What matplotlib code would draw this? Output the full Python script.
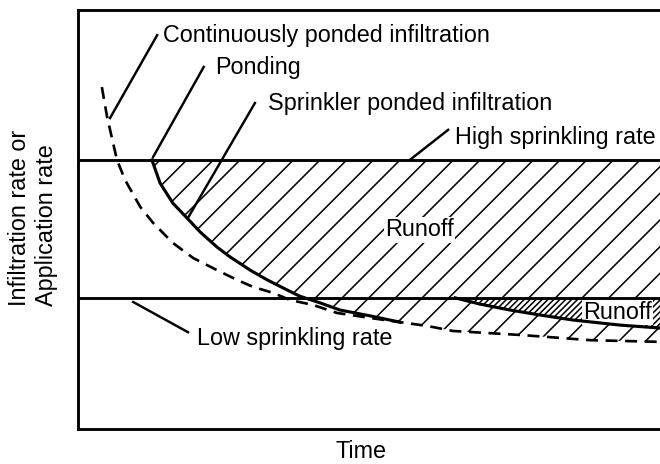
"""Sprinkler vs. continuously ponded infiltration sketch (runoff regions)."""

import matplotlib

matplotlib.use("Agg")
import matplotlib.pyplot as plt
import numpy as np

# figure drawn at 160 dpi so the hatch spacing matches the sketch
DPI = 160
plt.rcParams["font.family"] = ["Liberation Sans", "DejaVu Sans"]
plt.rcParams["font.size"] = 10.5
plt.rcParams["hatch.linewidth"] = 0.7
plt.rcParams["lines.scale_dashes"] = False

# --- data (time, rate in arbitrary units) ---
high_rate = 6.42
low_rate = 3.13

ponded_t = [0.41, 0.50, 0.67, 0.81, 1.07, 1.29, 1.63, 1.98, 2.39, 2.73, 3.01,
            3.35, 3.64, 4.04, 4.45, 5.02, 5.53, 6.00, 6.44, 7.65, 8.80, 10.0]
ponded_f = [8.16, 7.45, 6.42, 5.94, 5.30, 4.92, 4.44, 4.08, 3.79, 3.56, 3.39,
            3.25, 3.08, 2.96, 2.77, 2.65, 2.55, 2.46, 2.34, 2.24, 2.12, 2.08]

sprinkler_hi_t = [1.27, 1.41, 1.63, 1.87, 2.10, 2.39, 2.61, 2.96, 3.25, 3.59,
                  3.81, 4.16, 4.50, 5.02, 5.53]
sprinkler_hi_f = [6.42, 5.87, 5.39, 5.04, 4.70, 4.34, 4.11, 3.79, 3.56, 3.32,
                  3.17, 3.01, 2.84, 2.70, 2.55]

sprinkler_lo_t = [6.48, 6.91, 7.42, 7.94, 8.51, 9.31, 10.0]
sprinkler_lo_f = [3.13, 2.98, 2.84, 2.72, 2.60, 2.48, 2.41]

fig = plt.figure(figsize=(660 / DPI, 464 / DPI), dpi=DPI)
ax = fig.add_axes([78 / 660, 35 / 464, 582 / 660, 419 / 464])
ax.set_xlim(0, 10)
ax.set_ylim(0, 10)
ax.set_xticks([])
ax.set_yticks([])
ax.spines["right"].set_visible(False)
for s in ("left", "top", "bottom"):
    ax.spines[s].set_linewidth(1.3)

# big runoff region: under the high rate, above the sprinkler curve (then ponded curve)
pt = np.asarray(ponded_t)
pf = np.asarray(ponded_f)
keep = pt > sprinkler_hi_t[-1]
lower_t = np.concatenate([sprinkler_hi_t, pt[keep]])
lower_f = np.concatenate([sprinkler_hi_f, pf[keep]])
ax.fill_between(lower_t, lower_f, high_rate, facecolor="none", edgecolor="black",
                hatch="//", linewidth=0, zorder=1)

# small runoff region for the low rate
ax.fill_between(sprinkler_lo_t, sprinkler_lo_f, low_rate, facecolor="white",
                edgecolor="black", hatch="/////////", linewidth=0, zorder=2)

ax.axhline(high_rate, color="black", lw=1.3, zorder=6)
ax.axhline(low_rate, color="black", lw=1.3, zorder=6)
ax.plot(ponded_t, ponded_f, color="black", lw=1.2, dashes=(5.4, 3.4), zorder=3)
ax.plot(sprinkler_hi_t, sprinkler_hi_f, color="black", lw=1.4, zorder=3)
ax.plot(sprinkler_lo_t, sprinkler_lo_f, color="black", lw=1.4, zorder=6)

# labels with leader lines
notes = [
    ("Continuously ponded infiltration", (1.46, 9.40), (1.36, 9.40), (0.55, 7.42)),
    ("Ponding", (2.35, 8.62), (2.16, 8.64), (1.29, 6.49)),
    ("Sprinkler ponded infiltration", (3.26, 7.76), (3.04, 7.78), (1.89, 5.04)),
    ("High sprinkling rate", (6.48, 6.95), (6.36, 7.14), (5.70, 6.42)),
    ("Low sprinkling rate", (2.04, 2.15), (1.89, 2.31), (0.95, 3.03)),
]
for text, xy_text, start, end in notes:
    ax.text(*xy_text, text, ha="left", va="center", zorder=5)
    ax.plot([start[0], end[0]], [start[1], end[1]], color="black", lw=1.1, zorder=4)

box = dict(facecolor="white", edgecolor="none", pad=0.5)
ax.text(5.27, 4.75, "Runoff", ha="left", va="center", bbox=box, zorder=5)
ax.text(8.68, 2.79, "Runoff", ha="left", va="center", bbox=box, zorder=5)

fig.text(361 / 660, 1 - 452 / 464, "Time", ha="center", va="center")
fig.text(33 / 660, 1 - 218 / 464, "Infiltration rate or\nApplication rate",
         rotation=90, ha="center", va="center", multialignment="left")

fig.savefig("out.png", dpi=DPI)
